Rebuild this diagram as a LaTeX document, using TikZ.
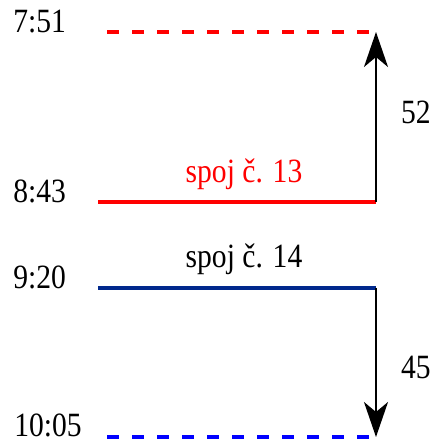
\documentclass[tikz,border=0pt]{standalone}
\usepackage{fontspec}
\setmainfont{Liberation Serif}
\newfontfamily\diagfont[FakeStretch=0.87]{Liberation Serif}
\usetikzlibrary{positioning,arrows.meta}
\definecolor{linkred}{RGB}{255,0,0}
\definecolor{linknavy}{RGB}{0,40,140}
\definecolor{linkblue}{RGB}{0,0,255}

\begin{document}
\begin{tikzpicture}[
    x=0.5pt, y=-0.5pt,
    timelabel/.style={anchor=base west, inner sep=0pt,
        font=\diagfont\fontsize{17}{20}\selectfont},
    spojlabel/.style={anchor=base, inner sep=0pt, xshift=3.5pt,
        font=\diagfont\fontsize{17}{20}\selectfont},
    difflabel/.style={anchor=west, inner sep=0pt,
        font=\diagfont\fontsize{17}{20}\selectfont},
    trip/.style={line width=2pt},
    waitline/.style={line width=1.8pt, dash pattern=on 6pt off 6.5pt},
    arrow/.style={-{Stealth[length=17.5pt, width=12pt, inset=5pt]}, line width=1pt, black}
]
\useasboundingbox (0,0) rectangle (431,440);

% Times
\node[timelabel] (t751) at (13,32) {7:51};
\node[timelabel] (t843) at (13,202) {8:43};
\node[timelabel] (t920) at (13,288) {9:20};
\node[timelabel] (t1005) at (14,436) {10:05};

% Line ends
\coordinate (w1s) at (107,32);
\coordinate (w1e) at (376,32);
\coordinate (s13s) at (98,202);
\coordinate (s13e) at (376,202);
\coordinate (s14s) at (98,288);
\coordinate (s14e) at (376,288);
\coordinate (w2s) at (107,437);
\coordinate (w2e) at (376,437);

% Trips
\draw[waitline, linkred] (w1s) -- (w1e);
\draw[trip, linkred] (s13s) -- (s13e)
    node[midway, spojlabel, text=linkred, yshift=10pt] (sp13) {spoj č. 13};
\draw[trip, linknavy] (s14s) -- (s14e)
    node[midway, spojlabel, text=black, yshift=10.5pt] (sp14) {spoj č. 14};
\draw[waitline, linkblue] (w2s) -- (w2e);

% Waiting times
\draw[arrow] (s13e) -- (w1e)
    node[midway, difflabel, xshift=12pt, yshift=2.5pt] (d52) {52};
\draw[arrow] (s14e) -- (w2e)
    node[midway, difflabel, xshift=12pt, yshift=-2.5pt] (d45) {45};

\end{tikzpicture}
\end{document}
